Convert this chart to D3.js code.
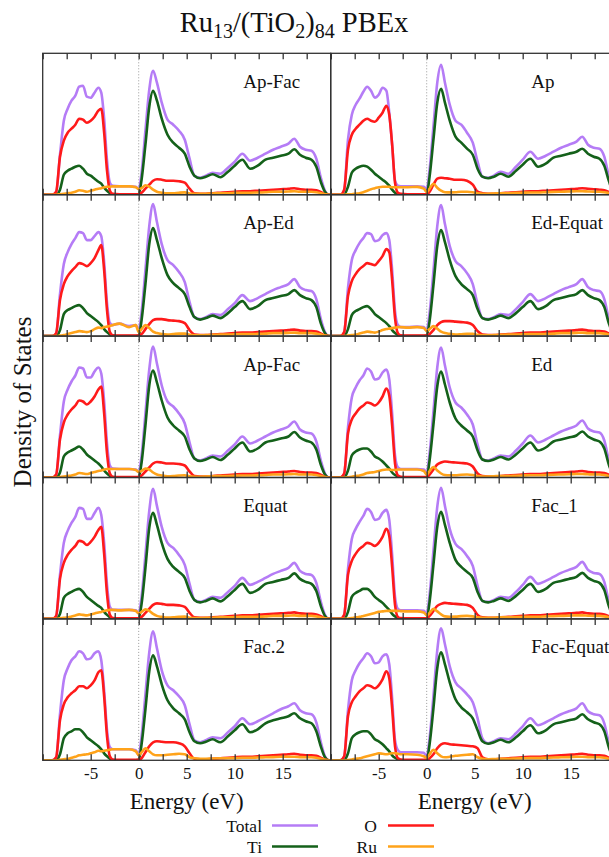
<!DOCTYPE html>
<html><head><meta charset="utf-8">
<script src="https://cdn.jsdelivr.net/npm/d3@7"></script>
<style>html,body{margin:0;padding:0;background:#fff;} svg{display:block;}</style>
</head><body><div id="chart"></div>
<script>
// Energy grid (eV)
const energy = [-10,-9,-8.6,-8.2,-7.8,-7.4,-7.0,-6.6,-6.2,-5.8,
  -5.4,-5.0,-4.6,-4.2,-3.9,-3.6,-3.3,-3.0,-2.7,-2.0,
  -1.0,-0.3,0,0.3,0.7,1.1,1.5,1.9,2.4,3.0,
  3.6,4.2,4.8,5.3,5.8,6.4,7.0,7.7,8.5,9.3,
  10.0,10.8,11.6,12.4,13.2,14.0,14.8,15.6,16.2,16.8,
  17.4,18.0,18.5,19.0,19.4,19.8,20];

const panelLabels = ["Ap-Fac","Ap","Ap-Ed","Ed-Equat","Ap-Fac","Ed","Equat","Fac_1","Fac.2","Fac-Equat"];
const tickValues = [-10,-7.5,-5,-2.5,0,2.5,5,7.5,10,12.5,15,17.5,20];
const tickLabels = [-5,0,5,10,15];
const seriesNames = ["Total","Ti","O","Ru"];

// DOS (arbitrary units), one list per panel
const totalDOS = [
 [0,0,2,40,74,86,94,99,108,109, 98,97,102,107,102,76,34,12,9,8.5, 8.5,8,5.5,22,64,105,124,112,92,75, 70,64,55,36,19,17,19,22,21,27, 33,41,34,37,41,45,48,51,56,48, 45,44,36,16,4,0,0],
 [0,0,4,55,80,90,96,103,108,104, 97,100,107,104,82,50,14,9,8.5,8.5, 8.5,8,5.5,25,68,112,130,112,90,74, 70,62,52,33,18,17,19,23,21,28, 35,43,36,39,43,47,50,53,58,50, 47,46,38,17,4,0,0],
 [0,0,2,42,72,84,92,98,104,103, 96,96,100,104,100,74,33,13,11,12.5, 10,11,6,24,66,110,132,114,92,76, 71,64,54,34,19,17,19,22,21,27, 33,41,35,38,42,46,49,52,57,49, 46,45,37,16,4,0,0],
 [0,0,3,48,76,86,93,98,103,102, 95,96,101,103,96,66,25,11,9,9, 9.5,9,5.5,23,65,110,131,112,90,75, 70,63,52,32,18,17,19,22,21,27, 34,42,35,38,42,46,49,52,57,49, 46,45,37,16,4,0,0],
 [0,0,2,42,76,88,96,102,110,109, 100,100,106,110,104,76,34,12,9,8.5, 8.5,8,5.5,22,64,108,131,114,92,76, 71,64,54,35,19,17,19,22,21,27, 33,41,34,37,41,45,48,51,56,48, 45,44,36,16,4,0,0],
 [0,0,3,50,80,90,97,102,109,106, 98,99,105,108,98,64,22,10,8.5,8.5, 8.5,8,5,24,66,110,130,112,90,75, 70,63,53,33,18,17,19,22,21,27, 34,42,35,38,42,46,49,52,57,49, 46,45,37,16,4,0,0],
 [0,0,2,44,76,88,96,102,111,110, 100,100,106,111,104,76,34,12,9,9, 9,8.5,5.5,22,64,108,130,113,92,76, 71,64,54,35,19,17,19,22,21,27, 33,41,34,37,41,45,48,51,56,48, 45,44,36,16,4,0,0],
 [0,0,3,50,80,90,97,103,110,107, 99,100,106,109,99,64,22,10,8.5,8.5, 8.5,8,5,24,68,112,131,113,90,75, 70,63,53,33,18,17,19,22,21,27, 34,42,35,38,42,46,49,52,57,49, 46,45,37,16,4,0,0],
 [0,0,2,46,80,92,100,104,109,107, 101,102,107,109,100,70,30,13,11,11, 11,10,5,24,66,108,129,112,90,75, 70,64,55,36,20,18,20,23,22,28, 34,42,36,39,43,47,51,54,57,50, 47,46,38,17,4,0,0],
 [0,0,3,50,80,90,97,102,107,104, 97,98,104,106,96,62,20,10,8,8, 8,7.5,4,22,64,110,132,116,94,78, 72,66,58,42,22,17,19,22,21,27, 34,42,35,38,42,46,49,52,57,49, 46,45,37,16,4,0,0]
];
const tiDOS = [
 [0,0,0,5,20,24,26,28,29,26, 21,19,16,13,11,7,4,1.5,0,0, 0,0,0.5,15,50,88,104,94,76,60, 52,47,41,28,19,16.5,18,20.5,17.5,23, 29,35,26,29,35,37,39,41,45.5,40, 37,35,28,12,3,0,0],
 [0,0,0,8,22,26,28,29,28,25, 21,18,15,12,9,5,2,0.5,0,0, 0,0,0.5,18,55,92,106,92,74,58, 52,46,40,26,18,16.5,18,21,18,24, 30,36,28,31,37,39,41,43,46,41, 38,36,29,13,3,0,0],
 [0,0,0,6,22,26,28,30,31,28, 23,20,17,14,11,7,4,1.5,0,0, 0,0,0.5,16,52,92,108,96,78,61, 53,48,42,29,19,16.5,18,20.5,18,23, 29,35,27,30,36,38,40,42,46,41, 38,36,29,12,3,0,0],
 [0,0,0,7,21,25,27,29,30,27, 22,19,16,13,10,6,3,1,0,0, 0,0,0.5,15,51,90,106,94,76,60, 52,47,41,27,18,16.5,18,20.5,18,23, 29,35,27,30,36,38,40,42,46,41, 38,36,29,12,3,0,0],
 [0,0,0,5,21,25,27,29,31,28, 23,20,17,14,11,7,4,1.5,0,0, 0,0,0.5,15,52,92,107,95,77,60, 52,47,41,28,19,16.5,18,20.5,17.5,23, 29,35,26,29,35,37,39,41,45.5,40, 37,35,28,12,3,0,0],
 [0,0,0,7,22,26,28,29,29,26, 21,19,16,12,9,5,2.5,1,0,0, 0,0,0.5,17,53,91,106,93,75,59, 52,47,41,27,18,16.5,18,20.5,18,23, 29,35,27,30,36,38,40,42,46,41, 38,36,29,12,3,0,0],
 [0,0,0,5,21,25,27,29,30,27, 22,19,16,13,11,7,4,1.5,0,0, 0,0,0.5,15,51,91,106,94,76,60, 52,47,41,28,19,16.5,18,20.5,17.5,23, 29,35,26,29,35,37,39,41,45.5,40, 37,35,28,12,3,0,0],
 [0,0,0,7,22,26,28,30,30,27, 22,19,16,12,9,5,2.5,1,0,0, 0,0,0.5,17,54,92,107,94,76,59, 52,47,41,27,18,16.5,18,20.5,18,23, 29,35,27,30,36,38,40,42,46,41, 38,36,29,12,3,0,0],
 [0,0,0,6,22,27,29,31,31,28, 23,20,17,14,11,7,4,1.5,0,0, 0,0,0.5,16,51,89,105,94,76,60, 52,47,41,28,19,17,18.5,21,18,24, 30,36,28,31,37,40,42,44,47,42, 39,37,29,13,3,0,0],
 [0,0,0,7,22,26,28,29,29,26, 21,19,16,12,9,5,2.5,1,0,0, 0,0,0.5,16,52,92,108,96,78,61, 53,48,42,30,19,16.5,18,20.5,18,23, 29,35,27,30,36,38,40,42,46,41, 38,36,29,12,3,0,0]
];
const oDOS = [
 [0,0,3,38,54,62,66,70,76,75, 72,74,78,84,86,62,24,4,0.8,0.5, 0.5,0.5,0.5,2,6,10,14,15.5,15,14, 14,13.5,12,6,1.5,1,1,1.5,2,2.5, 3,3.5,3.5,4,4.5,5,5.5,6,6.5,5.5, 5,5,4.5,2.5,0.5,0,0],
 [0,0,5,45,60,66,70,74,76,74, 73,77,82,89,80,50,12,2,0.8,0.5, 0.5,0.5,0.5,3,10,16,17,16.5,16,15, 15,14,10,3,1.5,1,1,1.5,2,2.5, 3,3.5,3.5,4,4.5,5,5.5,6,6.5,6, 5.5,5,4.5,2.5,0.5,0,0],
 [0,0,3,36,52,60,65,69,73,72, 70,73,78,86,91,66,26,4,0.8,0.5, 0.5,0.5,0.5,2,7,12,16,17,17,16, 15.5,15,13,6,1.5,1,1,1.5,2,2.5, 3,3.5,3.5,4,4.5,5,5.5,6,6.5,5.5, 5,5,4.5,2.5,0.5,0,0],
 [0,0,4,40,55,62,67,70,73,72, 71,75,80,87,84,56,18,3,0.8,0.5, 0.5,0.5,0.5,2,6,11,14,15,15,14.5, 14,13.5,11,5,1.5,1,1,1.5,2,2.5, 3,3.5,3.5,4,4.5,5,5.5,6,6.5,5.5, 5,5,4.5,2.5,0.5,0,0],
 [0,0,3,38,55,63,68,72,77,76, 73,76,81,88,91,64,24,4,0.8,0.5, 0.5,0.5,0.5,2,6,10,14,15.5,15,14, 14,13.5,12,6,1.5,1,1,1.5,2,2.5, 3,3.5,3.5,4,4.5,5,5.5,6,6.5,5.5, 5,5,4.5,2.5,0.5,0,0],
 [0,0,4,44,58,64,69,72,75,74, 72,75,81,89,82,52,14,2,0.8,0.5, 0.5,0.5,0.5,3,8,13,15,16,15.5,15, 14.5,14,11,4,1.5,1,1,1.5,2,2.5, 3,3.5,3.5,4,4.5,5,5.5,6,6.5,5.5, 5,5,4.5,2.5,0.5,0,0],
 [0,0,3,40,56,64,69,73,78,77, 74,77,82,89,92,65,25,4,0.8,0.5, 0.5,0.5,0.5,2,6,10,14,15.5,15,14, 14,13.5,12,6,1.5,1,1,1.5,2,2.5, 3,3.5,3.5,4,4.5,5,5.5,6,6.5,5.5, 5,5,4.5,2.5,0.5,0,0],
 [0,0,4,44,58,65,70,73,76,75, 73,76,82,90,83,52,14,2,0.8,0.5, 0.5,0.5,0.5,3,8,13,15,16,15.5,15, 14.5,14,11,4,1.5,1,1,1.5,2,2.5, 3,3.5,3.5,4,4.5,5,5.5,6,6.5,5.5, 5,5,4.5,2.5,0.5,0,0],
 [0,0,3,40,56,63,67,70,74,74, 72,75,80,88,90,64,24,4,0.8,0.5, 0.5,0.5,0.5,2,8,14,18,19,18.5,18, 18,17,14,7,1.5,1,1,1.5,2,2.5, 3,3.5,3.5,4,4.5,5,5.5,6,6.5,5.5, 5,5,4.5,2.5,0.5,0,0],
 [0,0,4,44,58,64,69,72,75,74, 72,75,81,89,82,52,14,2,0.8,0.5, 0.5,0.5,0.5,2,6,12,16,17,16,15.5, 15,14.5,14,12,3,1,1,1.5,2,2.5, 3,3.5,3.5,4,4.5,5,5.5,6,6.5,5.5, 5,5,4.5,2.5,0.5,0,0]
];
const ruDOS = [
 [0,0,0,0.5,1,1.5,2,3,4.5,4, 3,4,5,6,6.5,7.5,8,8,8.3,8.3, 8.3,7.5,5.5,6.5,9.5,8,5,3,2,1.3, 1.5,2,2.3,1.2,0.8,0.8,1,1.2,1.5,1.5, 1.8,2,2,2.2,2.5,3,3,3.2,3.5,3, 3,3,2.5,1.5,0.5,0,0],
 [0,0,0,0.3,0.5,1,1.5,2.5,4,5.5, 6.5,7.5,8,8,8,7.5,7.5,7.5,7.5,7.5, 7.8,6,2.5,6,11,7,4,2.5,2.3,2.5, 3,3,2.5,1.5,1,1,1.2,1.5,1.5,1.8, 2,2.2,2.2,2.5,2.8,3,3.2,3.5,3.5,3.2, 3,3,2.5,1.5,0.5,0,0],
 [0,0,0,0.5,1,2,3,4,5,4.5, 4,5,7,8.5,8,9,9.5,10,11,12.5, 9,11,4,7,11,8,4.5,3,2,1.5, 2,2.5,2.5,1.2,0.8,0.8,1,1.2,1.5,1.5, 1.8,2,2,2.2,2.5,3,3,3.2,3.5,3, 3,3,2.5,1.5,0.5,0,0],
 [0,0,0,0.5,1,1.5,2.5,3.5,4.5,4, 3.5,4.5,6,7,7.5,8,8.5,9,9,8.5, 9,8,5,7,10,7.5,4.5,3,2.2,1.5, 1.8,2.2,2.3,1.2,0.8,0.8,1,1.2,1.5,1.5, 1.8,2,2,2.2,2.5,3,3,3.2,3.5,3, 3,3,2.5,1.5,0.5,0,0],
 [0,0,0,0.5,1,1.5,2,3,4.5,4, 3.5,4.5,5.5,6.5,7,8,8.5,8.5,8.5,8.5, 8.5,7.5,5.5,6.5,9,8,5,3,2,1.3, 1.5,2,2.3,1.2,0.8,0.8,1,1.2,1.5,1.5, 1.8,2,2,2.2,2.5,3,3,3.2,3.5,3, 3,3,2.5,1.5,0.5,0,0],
 [0,0,0,0.3,0.8,1.5,2,3,4.5,5, 5.5,6.5,7.5,8,8,7.5,7.5,8,8,8, 8,6.5,3,6.5,10.5,7,4,2.5,2.2,2.3, 2.8,3,2.5,1.5,1,1,1.2,1.5,1.5,1.8, 2,2.2,2.2,2.5,2.8,3,3.2,3.5,3.5,3.2, 3,3,2.5,1.5,0.5,0,0],
 [0,0,0,0.5,1,1.5,2.5,3.5,4.5,4, 3.5,4.5,5.5,6.5,7,8,8.5,9,9,8.5, 9,8,5.5,7,9.5,8,5,3,2,1.3, 1.5,2,2.3,1.2,0.8,0.8,1,1.2,1.5,1.5, 1.8,2,2,2.2,2.5,3,3,3.2,3.5,3, 3,3,2.5,1.5,0.5,0,0],
 [0,0,0,0.3,0.8,1.5,2,3,4,5, 6,7,7.5,8,8,8,8,8,7.8,7.5, 7.5,6.5,3.5,6,10,7.5,4.5,2.5,2.2,2.3, 2.8,3,2.5,1.5,1,1,1.2,1.5,1.5,1.8, 2,2.2,2.2,2.5,2.8,3,3.2,3.5,3.5,3.2, 3,3,2.5,1.5,0.5,0,0],
 [0,0,0,0.5,1,1.5,2.5,3.5,5,5.5, 6,7,8,9.5,9,9.5,10,10.5,11,11, 11,9,5,8,12,9,6,5,5,5.5, 6,6.5,6,3,2,1.5,1.5,1.8,2,2, 2.2,2.5,2.5,2.8,3,3.2,3.5,3.5,3.5,3.2, 3,3,2.5,1.5,0.5,0,0],
 [0,0,0,0.3,0.8,1.5,2,3,4,5, 6,7,6.5,6,6.5,7,7,6.5,6,6, 5.5,4,2.5,6,10.5,7,4,3,3.5,4.5, 5,5.5,6,3,1.5,1,1.2,1.5,1.5,1.8, 2,2.2,2.2,2.5,2.8,3,3.2,3.5,3.5,3.2, 3,3,2.5,1.5,0.5,0,0]
];

const seriesData = [totalDOS, tiDOS, oDOS, ruDOS];
const seriesColors = ["#b57cf6", "#14611a", "#ff1a1a", "#ffa31a"];

const W = 609, H = 857;
const FONT = '"Liberation Serif","Times New Roman",Times,serif';
const plotLeft = 42.7, plotTop = 53.3, pw = 288, ph = 141.4;

const svg = d3.select('#chart').append('svg')
  .attr('width', W).attr('height', H)
  .style('font-family', FONT);

const x = d3.scaleLinear().domain([-10, 20]).range([0, pw]);
const y = d3.scaleLinear().domain([0, 141.4]).range([ph, 0]);

const line = d3.line()
  .x((d, i) => x(energy[i]))
  .y(d => y(d))
  .curve(d3.curveMonotoneX);

panelLabels.forEach((label, p) => {
  const col = p % 2, row = Math.floor(p / 2);
  const g = svg.append('g').attr('transform', `translate(${plotLeft + col * pw},${plotTop + row * ph})`);
  const cid = 'clip' + p;
  g.append('clipPath').attr('id', cid).append('rect')
    .attr('x', 0).attr('y', -2).attr('width', pw).attr('height', ph + 2);

  // Fermi level (dotted)
  g.append('line')
    .attr('x1', x(0)).attr('x2', x(0)).attr('y1', 0).attr('y2', ph)
    .attr('stroke', '#999').attr('stroke-width', 1).attr('stroke-dasharray', '1,2');

  const cg = g.append('g').attr('clip-path', `url(#${cid})`);
  seriesData.forEach((sd, s) => {
    cg.append('path').datum(sd[p])
      .attr('d', line)
      .attr('fill', 'none')
      .attr('stroke', seriesColors[s])
      .attr('stroke-width', 2.6)
      .attr('stroke-linejoin', 'round');
  });

  // border
  g.append('rect').attr('x', 0).attr('y', 0).attr('width', pw).attr('height', ph)
    .attr('fill', 'none').attr('stroke', '#333').attr('stroke-width', 1.3);

  // ticks (inward)
  const axB = g.append('g').attr('transform', `translate(0,${ph})`)
    .call(d3.axisBottom(x).tickValues(tickValues).tickSize(-6).tickFormat(''));
  const axT = g.append('g')
    .call(d3.axisTop(x).tickValues(tickValues).tickSize(-6).tickFormat(''));
  [axB, axT].forEach(a => {
    a.select('.domain').remove();
    a.selectAll('line').attr('stroke', '#333').attr('stroke-width', 1.3);
  });

  if (row === 4) {
    const lab = g.append('g').attr('transform', `translate(0,${ph})`)
      .call(d3.axisBottom(x).tickValues(tickLabels).tickSize(0).tickPadding(7)
        .tickFormat(d => d < 0 ? '-' + Math.abs(d) : String(d)));
    lab.select('.domain').remove();
    lab.selectAll('text').attr('font-family', FONT).attr('font-size', 17).attr('fill', '#111');
    g.append('text').attr('x', pw / 2).attr('y', ph + 49)
      .attr('text-anchor', 'middle').attr('font-size', 23).attr('fill', '#111')
      .text('Energy (eV)');
  }

  g.append('text').attr('x', 200.5).attr('y', 34.5)
    .attr('font-size', 19).attr('fill', '#111').text(label);
});

// Title
const title = svg.append('text').attr('x', 294).attr('y', 32)
  .attr('text-anchor', 'middle').attr('font-size', 28.5).attr('fill', '#111');
title.append('tspan').text('Ru');
title.append('tspan').attr('font-size', 20).attr('dy', 6).text('13');
title.append('tspan').attr('dy', -6).text('/(TiO');
title.append('tspan').attr('font-size', 20).attr('dy', 6).text('2');
title.append('tspan').attr('dy', -6).text(')');
title.append('tspan').attr('font-size', 20).attr('dy', 6).text('84');
title.append('tspan').attr('dy', -6).text(' PBEx');

// Y label
svg.append('text').attr('transform', 'translate(31,402) rotate(-90)')
  .attr('text-anchor', 'middle').attr('font-size', 25).attr('fill', '#111')
  .text('Density of States');

// Legend
const legendPos = [
  {tx: 262, lx1: 272, lx2: 318, y: 825.5},
  {tx: 262, lx1: 272, lx2: 318, y: 846.5},
  {tx: 377, lx1: 388, lx2: 434, y: 825.5},
  {tx: 377, lx1: 388, lx2: 434, y: 846.5}
];
seriesNames.forEach((n, i) => {
  const lp = legendPos[i];
  svg.append('text').attr('x', lp.tx).attr('y', lp.y + 6)
    .attr('text-anchor', 'end').attr('font-size', 17.5).attr('fill', '#111').text(n);
  svg.append('line').attr('x1', lp.lx1).attr('x2', lp.lx2).attr('y1', lp.y).attr('y2', lp.y)
    .attr('stroke', seriesColors[i]).attr('stroke-width', 2.6);
});
</script>
</body></html>
